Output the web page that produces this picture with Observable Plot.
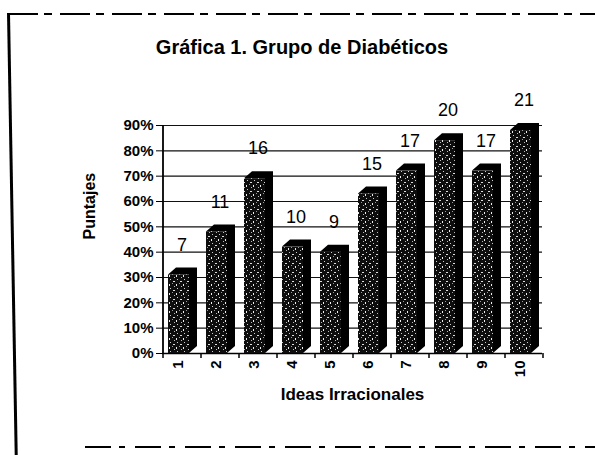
<!DOCTYPE html>
<html>
<head>
<meta charset="utf-8">
<script src="https://cdn.jsdelivr.net/npm/d3@7"></script>
<script src="https://cdn.jsdelivr.net/npm/@observablehq/plot@0.6"></script>
<style>
  html, body { margin: 0; padding: 0; background: #fff; }
  body { width: 595px; height: 455px; overflow: hidden; position: relative; font-family: "Liberation Sans", Arial, sans-serif; }
  #top { position: absolute; left: 8px; top: 13px; width: 590px; height: 2px;
    background: repeating-linear-gradient(to right, #000 0 30px, transparent 30px 36px, #000 36px 44px, transparent 44px 52px); }
  #left { position: absolute; left: 7px; top: 13px; width: 2.5px; height: 445px; background: #000;
    transform: rotate(-1deg); transform-origin: top left; }
  #bottom { position: absolute; left: 85px; top: 446px; width: 512px; height: 1.5px;
    background: repeating-linear-gradient(to right, #000 0 26px, transparent 26px 34px, #000 34px 40px, transparent 40px 50px); }
  #title { position: absolute; left: 0; width: 604px; top: 37px; text-align: center;
    font-size: 20px; line-height: 20px; font-weight: bold; color: #000; }
  #chart { position: absolute; left: 0; top: 55px; }
</style>
</head>
<body>
<div id="top"></div>
<div id="left"></div>
<div id="bottom"></div>
<div id="title"></div>
<div id="chart"></div>
<script>
const titleText = "Gráfica 1. Grupo de Diabéticos";
const xLabel = "Ideas Irracionales";
const yLabel = "Puntajes";
const cats = ["1", "2", "3", "4", "5", "6", "7", "8", "9", "10"];
const pct = [0.31, 0.48, 0.69, 0.42, 0.40, 0.63, 0.72, 0.84, 0.72, 0.88];
const counts = [7, 11, 16, 10, 9, 15, 17, 20, 17, 21];
const yTicks = [0, 0.1, 0.2, 0.3, 0.4, 0.5, 0.6, 0.7, 0.8, 0.9];

document.getElementById("title").textContent = titleText;

const data = cats.map((c, i) => ({cat: c, pct: pct[i], n: counts[i]}));
const font = "'Liberation Sans', Arial, sans-serif";
const depthX = 8, depthY = -7;

const chart = Plot.plot({
  width: 595,
  height: 370,
  marginLeft: 162,
  marginRight: 53,
  marginTop: 70,
  marginBottom: 72,
  style: {fontFamily: font, color: "#000", background: "transparent", overflow: "visible"},
  x: {domain: cats, paddingInner: 0.45, paddingOuter: 0.225, axis: null},
  y: {domain: [0, 0.9], axis: null},
  marks: [
    Plot.gridY(yTicks, {stroke: "#111", strokeOpacity: 1, strokeWidth: 1.1}),
    Plot.axisY(yTicks, {tickFormat: d3.format(".0%"), tickSize: 6, tickPadding: 3,
      fontSize: 15, fontWeight: "bold", stroke: "#000", label: null}),
    Plot.ruleY([0], {stroke: "#000", strokeWidth: 1.5}),
    Plot.ruleX(["1"], {dx: -19, y1: 0, y2: 0.9, stroke: "#000", strokeWidth: 1.8}),
    Plot.ruleX(cats, {dx: -19, y1: 0, y2: -0.02, stroke: "#000", strokeWidth: 1.5}),
    Plot.ruleX(["10"], {dx: 19, y1: 0, y2: -0.02, stroke: "#000", strokeWidth: 1.5}),
    Plot.barY(data, {x: "cat", y: "pct", fill: "#000", dx: -3, className: "side3d"}),
    Plot.barY(data, {x: "cat", y: "pct", fill: "url(#speck)", dx: -3}),
    Plot.text(data, {x: "cat", y: "pct", text: d => String(d.n), dy: -30, fontSize: 18, fill: "#000"}),
    Plot.text(cats, {x: d => d, y: 0, text: d => d, rotate: -90, textAnchor: "end", dy: 7, dx: -4,
      fontSize: 15, fontWeight: "bold", fill: "#000"}),
    Plot.text([xLabel], {frameAnchor: "bottom", text: d => d, dy: 46, fontSize: 17, fontWeight: "bold",
      fill: "#000", wordSpacing: "4px"}),
    Plot.text([yLabel], {frameAnchor: "left", text: d => d, dx: -73, rotate: -90, fontSize: 16,
      fontWeight: "bold", fill: "#000"})
  ]
});

// turn the back copy of each bar into the 3D side + top face
const ns = "http://www.w3.org/2000/svg";
chart.querySelectorAll("g.side3d rect").forEach(r => {
  const x = +r.getAttribute("x"), y = +r.getAttribute("y");
  const w = +r.getAttribute("width"), h = +r.getAttribute("height");
  const p = document.createElementNS(ns, "path");
  p.setAttribute("d", `M${x},${y}L${x + depthX},${y + depthY}L${x + w + depthX},${y + depthY}` +
    `L${x + w + depthX},${y + h + depthY}L${x + w},${y + h}L${x + w},${y}Z`);
  p.setAttribute("fill", "#000");
  r.replaceWith(p);
});

const defs = document.createElementNS(ns, "defs");
defs.innerHTML = `<pattern id="speck" patternUnits="userSpaceOnUse" width="7" height="9">
  <rect width="7" height="9" fill="#0d0d0d"/>
  <rect x="1" y="1" width="2" height="1" fill="#ddd"/>
  <rect x="4" y="4" width="1" height="2" fill="#eee"/>
  <rect x="2" y="6" width="1" height="1" fill="#bbb"/>
  <rect x="5" y="8" width="1" height="1" fill="#ccc"/>
  <rect x="0" y="3" width="1" height="1" fill="#999"/>
</pattern>`;
chart.insertBefore(defs, chart.firstChild);
document.getElementById("chart").appendChild(chart);
</script>
</body>
</html>
